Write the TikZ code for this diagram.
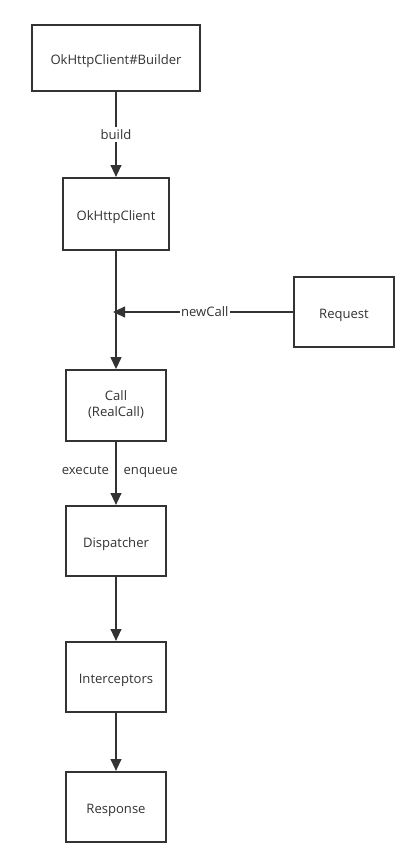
\documentclass[tikz,border=0pt]{standalone}
\usepackage{fontspec}
\setmainfont{Open Sans}
\usetikzlibrary{arrows.meta}
\definecolor{ln}{HTML}{333333}
\definecolor{tx}{HTML}{333333}
\begin{document}
\begin{tikzpicture}[x=0.75pt,y=-0.75pt,
  box/.style={draw=ln,line width=1.5pt,fill=white,inner sep=0pt,align=center,text=tx,font=\fontsize{9.8}{12}\selectfont},
  one/.style={box,text height=10pt,text depth=0pt},
  arr/.style={draw=ln,line width=1.5pt,-{Triangle[length=9pt,width=8pt]}},
  lbl/.style={text=tx,font=\fontsize{9.8}{12}\selectfont,inner sep=1pt,text height=7pt,text depth=0pt},
  bglbl/.style={lbl,fill=white,inner ysep=2pt}]
\useasboundingbox (0,0) rectangle (419,867);
\node[one,minimum width=126pt,minimum height=49.5pt] (builder) at (116,58) {OkHttpClient\#Builder};
\node[one,minimum width=80pt,minimum height=54pt] (client) at (116,214) {OkHttpClient};
\node[one,minimum width=75pt,minimum height=52.5pt] (request) at (344,312) {Request};
\node[box,minimum width=75pt,minimum height=53pt] (call) at (116,405.5) {\raisebox{-4.5pt}{\begin{tabular}{@{}c@{}}Call\\(RealCall)\end{tabular}}};
\node[one,minimum width=75pt,minimum height=52.5pt] (disp) at (116,541) {Dispatcher};
\node[one,minimum width=75pt,minimum height=52.5pt] (inter) at (116,677) {Interceptors};
\node[one,minimum width=75pt,minimum height=52.5pt] (resp) at (116,807) {Response};
\coordinate (join) at (113,312);
\draw[arr] (builder) -- (client) node[bglbl,pos=0.5] {build};
\draw[arr] (client) -- (call);
\draw[arr] (request) -- (join) node[bglbl,pos=0.49] {newCall};
\draw[arr] (call) -- (disp) node[lbl,pos=0.45,left=3.5pt] {execute} node[lbl,pos=0.45,right=4pt] {enqueue};
\draw[arr] (disp) -- (inter);
\draw[arr] (inter) -- (resp);
\end{tikzpicture}
\end{document}
